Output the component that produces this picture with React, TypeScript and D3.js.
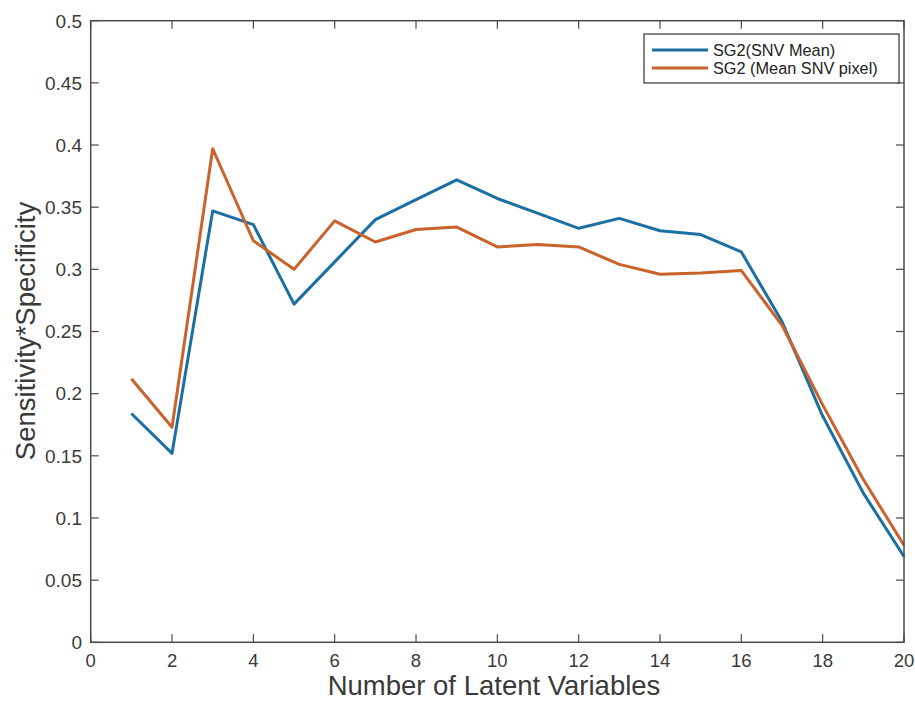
import React from "react";
import * as d3 from "d3";

const latentVariables = [1, 2, 3, 4, 5, 6, 7, 8, 9, 10, 11, 12, 13, 14, 15, 16, 17, 18, 19, 20];
const sg2SnvMean = [0.184, 0.152, 0.347, 0.336, 0.272, 0.306, 0.340, 0.356, 0.372, 0.357, 0.345, 0.333, 0.341, 0.331, 0.328, 0.314, 0.258, 0.182, 0.120, 0.069];
const sg2MeanSnvPixel = [0.212, 0.173, 0.397, 0.323, 0.300, 0.339, 0.322, 0.332, 0.334, 0.318, 0.320, 0.318, 0.304, 0.296, 0.297, 0.299, 0.255, 0.191, 0.131, 0.078];
const seriesNames = ["SG2(SNV Mean)", "SG2 (Mean SNV pixel)"];
const seriesColors = ["#1b6fa3", "#c9622b"];
const xTicks = [0, 2, 4, 6, 8, 10, 12, 14, 16, 18, 20];
const yTicks = [0, 0.05, 0.1, 0.15, 0.2, 0.25, 0.3, 0.35, 0.4, 0.45, 0.5];

export default function App() {
  const W = 915, H = 702;
  const L = 90.7, R = 904, T = 20.7, B = 642.3;
  const x = d3.scaleLinear().domain([0, 20]).range([L, R]);
  const y = d3.scaleLinear().domain([0, 0.5]).range([B, T]);
  const line = d3.line<number>().x((_, i) => x(latentVariables[i])).y((v) => y(v));
  const series = [sg2SnvMean, sg2MeanSnvPixel];
  const axisColor = "#4a4a4a";
  const textColor = "#3a3a3a";
  const font = "'Liberation Sans', Arial, sans-serif";
  const tl = 8;
  return (
    <svg width={W} height={H} style={{ position: "absolute", left: 0, top: 0, background: "#fff" }} fontFamily={font}>
      <rect x={0} y={0} width={W} height={H} fill="#fff" />
      {series.map((s, i) => (
        <path key={i} d={line(s) || ""} fill="none" stroke={seriesColors[i]} strokeWidth={3} strokeLinejoin="round" />
      ))}
      <rect x={L} y={T} width={R - L} height={B - T} fill="none" stroke={axisColor} strokeWidth={1.5} />
      {xTicks.map((t) => (
        <g key={"x" + t}>
          <line x1={x(t)} x2={x(t)} y1={B} y2={B - tl} stroke={axisColor} strokeWidth={1.2} />
          <line x1={x(t)} x2={x(t)} y1={T} y2={T + tl} stroke={axisColor} strokeWidth={1.2} />
          <text x={x(t)} y={667} textAnchor="middle" fontSize={18.5} fill={textColor}>{t}</text>
        </g>
      ))}
      {yTicks.map((t) => (
        <g key={"y" + t}>
          <line x1={L} x2={L + tl} y1={y(t)} y2={y(t)} stroke={axisColor} strokeWidth={1.2} />
          <line x1={R} x2={R - tl} y1={y(t)} y2={y(t)} stroke={axisColor} strokeWidth={1.2} />
          <text x={82} y={y(t) + 6.8} textAnchor="end" fontSize={19} fill={textColor}>{String(t)}</text>
        </g>
      ))}
      <text x={(325 + 663) / 2} y={695} textAnchor="middle" fontSize={27.5} fill={textColor}>Number of Latent Variables</text>
      <text transform={`translate(35, 331) rotate(-90)`} textAnchor="middle" fontSize={27.5} fill={textColor}>Sensitivity*Specificity</text>
      <g>
        <rect x={644} y={34} width={255} height={49} fill="#fff" stroke="#333" strokeWidth={1.2} />
        {seriesNames.map((n, i) => (
          <g key={n}>
            <line x1={652} x2={708} y1={50 + i * 18} y2={50 + i * 18} stroke={seriesColors[i]} strokeWidth={3} />
            <text x={713} y={55.8 + i * 18} fontSize={16.3} fill="#222">{n}</text>
          </g>
        ))}
      </g>
    </svg>
  );
}
